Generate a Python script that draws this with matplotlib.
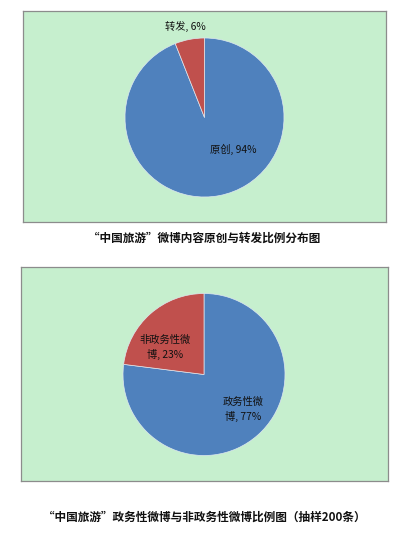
import matplotlib
matplotlib.use("Agg")
import matplotlib.pyplot as plt

plt.rcParams['font.family'] = ['Noto Sans CJK SC', 'DejaVu Sans']

# Data
top_labels = ["原创", "转发"]
top_values = [94, 6]
top_title = "“中国旅游”微博内容原创与转发比例分布图"

bot_labels = ["政务性微\n博", "非政务性微\n博"]
bot_values = [77, 23]
bot_title = "“中国旅游”政务性微博与非政务性微博比例图（抽样200条）"

colors = ["#4F81BD", "#C0504D"]
bg = "#C6EFCE"
W, H = 409, 539

fig = plt.figure(figsize=(W / 100, H / 100), dpi=100)
fig.patch.set_facecolor("white")


def px_rect(x0, y0, x1, y1):
    return (x0 / W, 1 - y1 / H, (x1 - x0) / W, (y1 - y0) / H)


def panel(box, center, r, labels, values, label_pos, title, title_y):
    bax = fig.add_axes(px_rect(*box), zorder=0)
    bax.set_facecolor(bg)
    bax.set_xticks([])
    bax.set_yticks([])
    for s in bax.spines.values():
        s.set_edgecolor("#8C8C8C")
        s.set_linewidth(0.9)
    cx, cy = center
    ax = fig.add_axes(px_rect(cx - r, cy - r, cx + r, cy + r), zorder=1)
    ax.set_facecolor("none")
    ax.pie(values, colors=colors, startangle=90, counterclock=False,
           radius=1.0, wedgeprops=dict(linewidth=0.5, edgecolor="#dfe8f0"))
    ax.set_xlim(-1, 1)
    ax.set_ylim(-1, 1)
    ax.set_aspect("equal")
    ax.axis("off")
    for lab, v, (dx, dy) in zip(labels, values, label_pos):
        ax.text(dx, dy, f"{lab}, {v}%", ha="center", va="center",
                fontsize=7.4, color="#111111", linespacing=1.45, clip_on=False)
    fig.text(cx / W, 1 - title_y / H, title, ha="center", va="center",
             fontsize=8.4, color="#111111", fontweight="bold")


panel((23, 11, 386, 222), (204.5, 117.5), 79.5, top_labels, top_values,
      [(0.36, -0.40), (-0.245, 1.14)], top_title, 238)
panel((21, 267, 388, 481), (204, 374.5), 81, bot_labels, bot_values,
      [(0.48, -0.43), (-0.48, 0.33)], bot_title, 517)

fig.savefig("out.png", dpi=100, facecolor="white")
